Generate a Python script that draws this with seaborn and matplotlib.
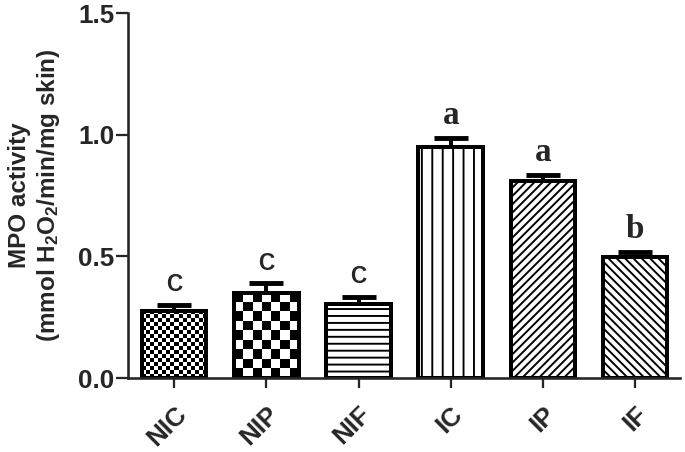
import numpy as np
import matplotlib
matplotlib.use("Agg")
import matplotlib.pyplot as plt
from matplotlib.patches import Rectangle
import seaborn as sns

# Données
groups = ["NIC", "NIP", "NIF", "IC", "IP", "IF"]
mpo = [0.276, 0.35, 0.305, 0.95, 0.81, 0.498]
sem = [0.025, 0.04, 0.03, 0.036, 0.025, 0.02]
letters = ["C", "C", "C", "a", "a", "b"]
hatches = [None, None, "---", "||", "/////", "\\\\\\\\\\"]
checker_cols = {0: 16, 1: 7}  # damier pour NIC et NIP

sns.set_style("ticks")
plt.rcParams["font.family"] = ["Liberation Sans", "DejaVu Sans"]
plt.rcParams["mathtext.fontset"] = "custom"
plt.rcParams["mathtext.rm"] = "Liberation Sans:bold"
plt.rcParams["mathtext.bf"] = "Liberation Sans:bold"
plt.rcParams["mathtext.default"] = "bf"
plt.rcParams["hatch.linewidth"] = 1.1
plt.rcParams["hatch.color"] = "black"

dpi = 125
fig = plt.figure(figsize=(685 / dpi, 452 / dpi), dpi=dpi)
ax = fig.add_axes([0.187, 0.1637, 0.806, 0.807])

sns.barplot(x=groups, y=mpo, color="white", edgecolor="black", linewidth=2.3,
            width=0.7, saturation=1, errorbar=None, ax=ax)
ax.set_xlim(-0.5, 5.49)
ax.set_ylim(0, 1.5)

bars = list(ax.patches)
for i, (p, h) in enumerate(zip(bars, hatches)):
    p.set_zorder(2)
    if h:
        p.set_hatch(h)

# damier (pas de hachure équivalente dans matplotlib)
for i, ncols in checker_cols.items():
    p = bars[i]
    x0, y0, w, hgt = p.get_x(), p.get_y(), p.get_width(), p.get_height()
    (px0, py0), (px1, py1) = ax.transData.transform([(x0, y0), (x0 + w, y0 + hgt)])
    cell = (px1 - px0) / ncols
    nrows = max(1, int(round((py1 - py0) / cell)))
    board = (np.add.outer(np.arange(nrows), np.arange(ncols)) % 2).astype(float)
    im = ax.imshow(board, cmap="gray", extent=(x0, x0 + w, y0, y0 + hgt),
                   aspect="auto", interpolation="nearest", zorder=2.1)
    im.set_clip_path(p)
    ax.add_patch(Rectangle((x0, y0), w, hgt, fill=False, edgecolor="black",
                           linewidth=2.3, zorder=2.2))
ax.set_xlim(-0.5, 5.49)
ax.set_ylim(0, 1.5)

pos = np.arange(len(groups))
ax.errorbar(pos, mpo, yerr=[np.zeros(len(sem)), sem], fmt="none", ecolor="black",
            elinewidth=2.3, capsize=10, capthick=2.8, zorder=1.5)

for i, (m, s, l) in enumerate(zip(mpo, sem, letters)):
    if l.isupper():
        ax.text(i, m + s + 0.035, l, ha="center", va="bottom", fontsize=13,
                fontweight="bold", family="Liberation Sans")
    else:
        ax.text(i, m + s + 0.03, l, ha="center", va="bottom", fontsize=19,
                fontweight="bold", family="Liberation Serif")

ax.set_yticks([0, 0.5, 1.0, 1.5])
ax.set_yticklabels(["0.0", "0.5", "1.0", "1.5"], fontsize=15, fontweight="bold")
ax.set_xticks(pos)
ax.set_xticklabels(groups, fontsize=15, fontweight="bold", rotation=45,
                   ha="right", rotation_mode="anchor")
ax.tick_params(axis="y", length=7, width=1.3, pad=1)
ax.tick_params(axis="x", length=6, width=1.3, pad=8)
ax.set_xlabel("")
ax.set_ylabel("MPO activity\n(mmol H$_2$O$_2$/min/mg skin)", fontsize=14,
              fontweight="bold", labelpad=9)
for s in ["left", "bottom"]:
    ax.spines[s].set_linewidth(1.5)
sns.despine(ax=ax)

plt.savefig("out.png", dpi=dpi)
